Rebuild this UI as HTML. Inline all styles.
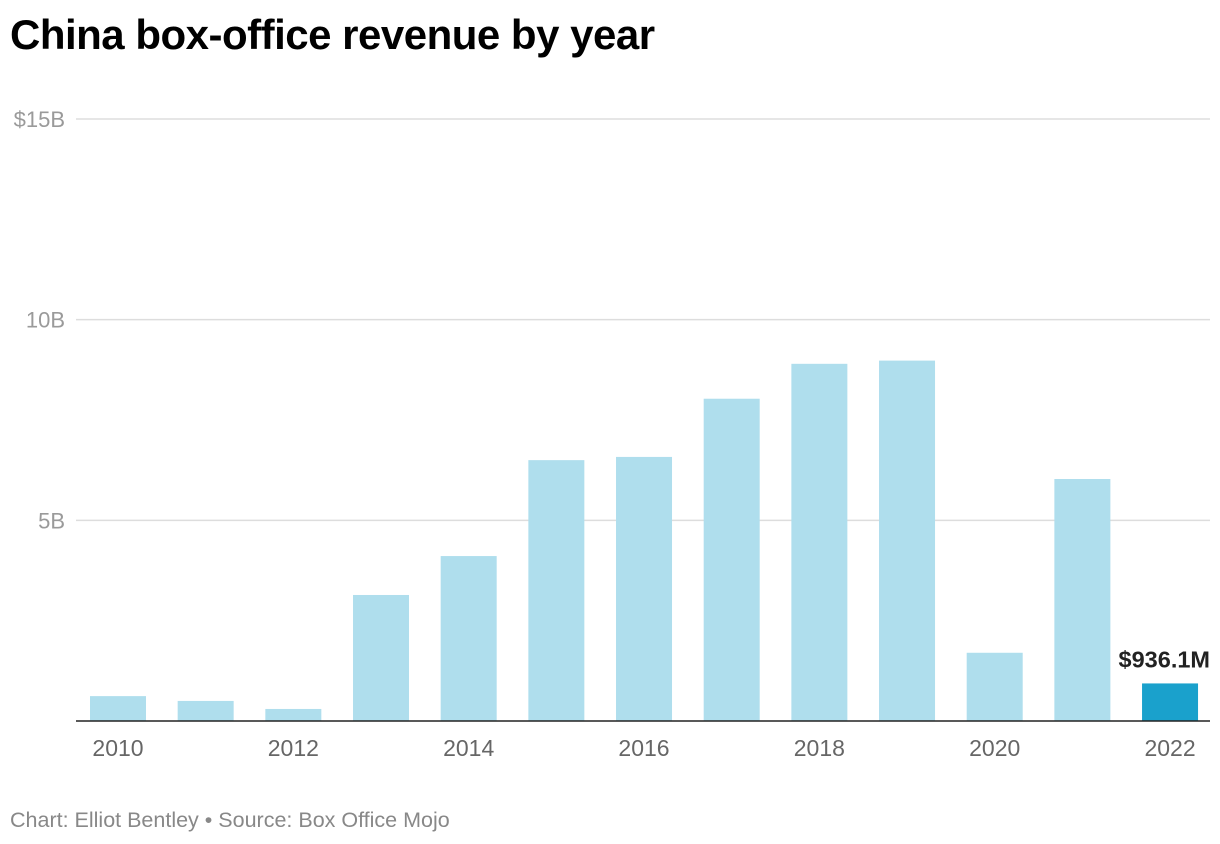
<!DOCTYPE html>
<html><head><meta charset="utf-8"><style>
body{margin:0;background:#fff;font-family:"Liberation Sans",sans-serif;}
#wrap{position:relative;width:1220px;height:844px;overflow:hidden;}
h1{position:absolute;left:10px;top:11px;margin:0;font-size:42px;font-weight:bold;color:#000;letter-spacing:-0.5px;}
#foot{position:absolute;left:10px;top:808px;font-size:21.5px;color:#888;}
</style></head><body>
<div id="wrap">
<h1>China box-office revenue by year</h1>
<svg id="svg" width="1220" height="844" style="position:absolute;left:0;top:0"></svg>
<div id="foot">Chart: Elliot Bentley • Source: Box Office Mojo</div>
</div>
<script>
const years=[2010,2011,2012,2013,2014,2015,2016,2017,2018,2019,2020,2021,2022];
const revenue=[0.62,0.50,0.30,3.14,4.11,6.50,6.58,8.03,8.90,8.98,1.70,6.03,0.9361];
const yTicks=[0,5,10,15];
const yTickLabels=["","5B","10B","$15B"];
const xLabelYears=[2010,2012,2014,2016,2018,2020,2022];
const highlightLabel="$936.1M";
const NS="http://www.w3.org/2000/svg";
const svg=document.getElementById('svg');
const L=76,R=1210,Y0=721,Y15=119,c0=118,step=87.67,bw=56;
const y=v=>Y0-(Y0-Y15)*v/15;
const x=yr=>c0+(yr-years[0])*step;
function mk(t,a){const e=document.createElementNS(NS,t);for(const k in a)e.setAttribute(k,a[k]);svg.appendChild(e);return e;}
yTicks.forEach((t,i)=>{
 if(t>0){const g=mk('line',{x1:L,x2:R,y1:y(t),y2:y(t),stroke:'#ddd','stroke-width':1.5});
 
 }
 const tx=mk('text',{x:65,y:y(t)+8,'font-size':22,fill:'#9a9a9a','text-anchor':'end'});tx.textContent=yTickLabels[i];
 
 
});
years.forEach((yr,i)=>{
 const last=i===years.length-1;
 const b=mk('rect',{x:x(yr)-bw/2,y:y(revenue[i]),width:bw,height:Y0-y(revenue[i]),fill:last?'#1aa1cc':'#afdeed'});
 
 
 if(last){const t=mk('text',{x:1210,y:y(revenue[i])-16,'font-size':23.5,'font-weight':'bold','text-anchor':'end',fill:'#222'});t.textContent=highlightLabel;
 
 }
});
const base=mk('line',{x1:L,x2:R,y1:Y0,y2:Y0,stroke:'#222','stroke-width':1.5});


xLabelYears.forEach(yr=>{
 const t=mk('text',{x:x(yr),y:756,'font-size':23,'text-anchor':'middle',fill:'#666'});t.textContent=yr;
 
 
});
</script>
</body></html>
